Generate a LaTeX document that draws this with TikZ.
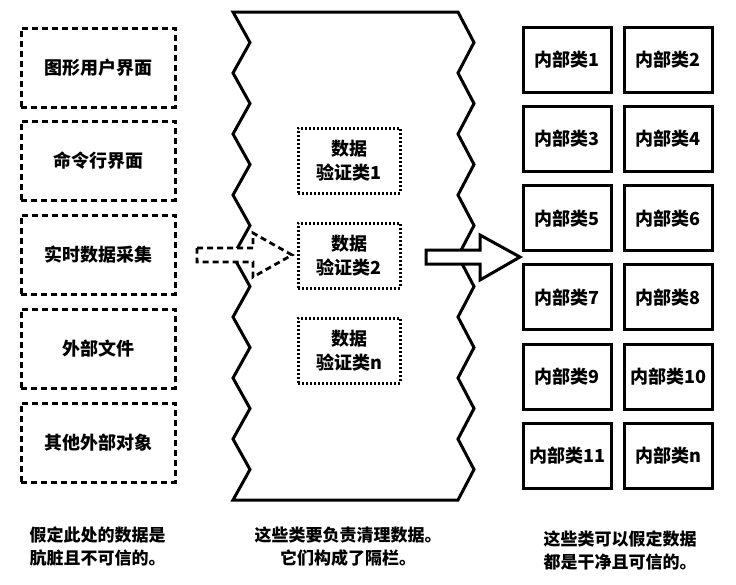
\documentclass[tikz,border=0pt]{standalone}
\usepackage{fontspec}
\setmainfont{Noto Sans CJK SC}
\begin{document}
\begin{tikzpicture}[x=1pt,y=-1pt,
  boxtext/.style={font=\fontsize{18}{24}\selectfont\bfseries, align=center},
  captext/.style={font=\fontsize{17}{23}\selectfont\bfseries},
  dirtybox/.style={boxtext, draw, line width=3pt, dash pattern=on 6pt off 4pt, minimum width=154pt, minimum height=79pt, inner sep=0pt},
  valbox/.style={boxtext, draw, line width=3pt, dash pattern=on 1.6pt off 2.4pt, minimum width=102pt, minimum height=65pt, inner sep=0pt},
  cleanbox/.style={boxtext, draw, line width=3pt, minimum width=88pt, minimum height=65pt, inner sep=0pt},
  barrierline/.style={draw, line width=3pt, line join=miter, fill=white},
  dasharrow/.style={draw, line width=2.8pt, dash pattern=on 6pt off 4pt, fill=white, line join=miter},
  solidarrow/.style={draw, line width=3pt, fill=white, line join=miter}]
\useasboundingbox (0,0) rectangle (736,584);

% left: dirty sources
\node[dirtybox] (l1) at (98,67.5) {图形用户界面};
\node[dirtybox] (l2) at (98,160.5) {命令行界面};
\node[dirtybox] (l3) at (98,254.5) {实时数据采集};
\node[dirtybox] (l4) at (98,348.5) {外部文件};
\node[dirtybox] (l5) at (98,442.5) {其他外部对象};

% barrier
\path[barrierline] (233,12) -- (250,42.5) -- (233,73) -- (250,103.5) -- (233,134) -- (250,164.5) -- (233,195) -- (250,225.5) -- (233,256) -- (250,286.5) -- (233,317) -- (250,347.5) -- (233,378) -- (250,408.5) -- (233,439) -- (250,469.5) -- (233,500)
  -- (458,500) -- (474,469.5) -- (458,439) -- (474,408.5) -- (458,378) -- (474,347.5) -- (458,317) -- (474,286.5) -- (458,256) -- (474,225.5) -- (458,195) -- (474,164.5) -- (458,134) -- (474,103.5) -- (458,73) -- (474,42.5) -- (458,12) -- cycle;

% validation classes
\node[valbox] (v1) at (349,160.5) {数据\\验证类1};
\node[valbox] (v2) at (349,255.5) {数据\\验证类2};
\node[valbox] (vn) at (349,350.5) {数据\\验证类n};

% arrows
\path[dasharrow] (197,248) -- (253,248) -- (253,233) -- (292,255) -- (253,277) -- (253,262) -- (197,262) -- cycle;
\path[solidarrow] (426,250) -- (480,250) -- (480,235) -- (520,257) -- (480,280) -- (480,264) -- (426,264) -- cycle;

% internal clean classes
\node[cleanbox] (c1) at (567,59.5) {内部类1};
\node[cleanbox] (c2) at (668,59.5) {内部类2};
\node[cleanbox] (c3) at (567,138.8) {内部类3};
\node[cleanbox] (c4) at (668,138.8) {内部类4};
\node[cleanbox] (c5) at (567,218.1) {内部类5};
\node[cleanbox] (c6) at (668,218.1) {内部类6};
\node[cleanbox] (c7) at (567,297.4) {内部类7};
\node[cleanbox] (c8) at (668,297.4) {内部类8};
\node[cleanbox] (c9) at (567,376.7) {内部类9};
\node[cleanbox] (c10) at (668,376.7) {内部类10};
\node[cleanbox] (c11) at (567,456) {内部类11};
\node[cleanbox] (c12) at (668,456) {内部类n};

% captions
\node[captext, align=left, anchor=west] (capL) at (26,546) {假定此处的数据是\\肮脏且不可信的。};
\node[captext, align=center] (capM) at (348,547) {这些类要负责清理数据。\\它们构成了隔栏。};
\node[captext, align=left, anchor=west] (capR) at (540,550) {这些类可以假定数据\\都是干净且可信的。};
\end{tikzpicture}
\end{document}
